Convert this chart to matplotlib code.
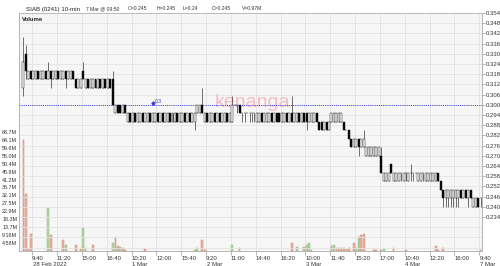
import matplotlib
matplotlib.use("Agg")
import matplotlib.pyplot as plt
import numpy as np

plt.rcParams['font.family'] = ['Liberation Sans', 'DejaVu Sans']

# prices in thousandths of a ringgit, one entry per 10-min bar
opens = [310, 330, 315, 320, 315, 315, 320, 315, 315, 320,
         315, 320, 315, 315, 320, 315, 315, 320, 315, 315,
         320, 315, 310, 310, 320, 310, 315, 310, 310, 315,
         310, 315, 310, 315, 310, 315, 315, 295, 300, 300,
         295, 300, 290, 295, 290, 295, 290, 290, 295, 290,
         290, 295, 290, 290, 295, 290, 295, 290, 290, 295,
         290, 290, 295, 290, 290, 295, 290, 295, 290, 290,
         295, 295, 300, 290, 295, 290, 290, 295, 290, 295,
         290, 290, 295, 290, 290, 300, 300, 300, 295, 295,
         295, 295, 295, 295, 290, 290, 295, 290, 290, 290,
         295, 290, 295, 295, 290, 290, 295, 290, 295, 290,
         290, 295, 290, 295, 295, 290, 290, 290, 295, 290,
         290, 285, 290, 285, 290, 290, 290, 290, 290, 290,
         285, 285, 280, 275, 275, 280, 275, 275, 270, 270,
         270, 270, 270, 270, 270, 255, 255, 255, 265, 255,
         255, 255, 260, 255, 260, 255, 260, 260, 260, 255,
         255, 260, 255, 255, 255, 255, 255, 260, 255, 250,
         245, 245, 245, 245, 245, 245, 250, 245, 250, 245,
         250, 240, 240, 245, 245]
highs = [340, 335, 320, 320, 320, 320, 320, 320, 320, 320,
         325, 320, 320, 320, 320, 320, 320, 320, 320, 320,
         320, 315, 315, 315, 325, 315, 315, 315, 315, 315,
         315, 315, 315, 315, 315, 315, 320, 300, 300, 300,
         300, 300, 295, 295, 295, 295, 295, 295, 295, 295,
         295, 295, 295, 295, 295, 295, 295, 295, 295, 295,
         295, 295, 295, 295, 295, 295, 295, 295, 295, 295,
         300, 300, 310, 295, 295, 295, 295, 295, 295, 295,
         295, 295, 295, 295, 305, 300, 300, 300, 295, 295,
         295, 295, 295, 295, 295, 295, 295, 295, 295, 295,
         295, 295, 295, 295, 295, 295, 295, 295, 305, 295,
         295, 295, 295, 295, 295, 295, 295, 295, 295, 290,
         290, 290, 290, 290, 295, 295, 295, 295, 295, 290,
         285, 285, 280, 280, 280, 280, 280, 285, 275, 275,
         275, 275, 275, 275, 275, 260, 260, 260, 265, 260,
         260, 260, 260, 260, 260, 260, 265, 260, 260, 260,
         260, 260, 260, 260, 260, 260, 260, 260, 255, 250,
         250, 250, 250, 250, 250, 250, 250, 250, 250, 250,
         250, 245, 245, 245, 245]
lows = [305, 315, 315, 315, 315, 315, 315, 315, 315, 315,
        315, 310, 315, 315, 315, 315, 315, 310, 315, 315,
        315, 310, 310, 310, 315, 310, 310, 310, 310, 310,
        310, 310, 310, 310, 310, 310, 300, 295, 295, 295,
        295, 295, 290, 290, 290, 290, 290, 290, 290, 290,
        290, 290, 290, 290, 290, 290, 290, 290, 290, 290,
        290, 290, 290, 290, 290, 290, 290, 290, 290, 285,
        295, 295, 295, 290, 290, 290, 290, 290, 290, 290,
        290, 290, 290, 290, 290, 300, 295, 295, 290, 290,
        295, 290, 290, 290, 290, 290, 290, 290, 290, 290,
        290, 290, 290, 290, 290, 290, 290, 290, 290, 290,
        290, 290, 290, 290, 285, 290, 290, 290, 290, 285,
        285, 285, 285, 285, 290, 290, 290, 290, 290, 285,
        285, 280, 275, 275, 275, 270, 275, 275, 270, 270,
        270, 270, 270, 270, 260, 255, 255, 255, 260, 255,
        255, 255, 255, 255, 255, 255, 255, 255, 260, 255,
        255, 255, 255, 255, 255, 255, 255, 255, 250, 240,
        240, 240, 240, 240, 240, 240, 245, 245, 245, 240,
        245, 240, 240, 240, 240]
closes = [325, 320, 320, 315, 320, 320, 315, 320, 320, 315,
          320, 315, 320, 320, 315, 320, 320, 315, 320, 320,
          315, 310, 315, 315, 315, 315, 310, 315, 315, 310,
          315, 310, 315, 310, 315, 310, 300, 300, 295, 295,
          300, 295, 295, 290, 295, 290, 295, 295, 290, 295,
          295, 290, 295, 295, 290, 295, 290, 295, 295, 290,
          295, 295, 290, 295, 295, 290, 295, 290, 295, 295,
          300, 300, 295, 295, 290, 295, 295, 290, 295, 290,
          295, 295, 290, 295, 300, 300, 300, 295, 295, 295,
          295, 295, 295, 295, 295, 295, 290, 295, 295, 295,
          290, 295, 290, 290, 295, 295, 290, 295, 290, 295,
          295, 290, 295, 290, 290, 295, 295, 295, 290, 285,
          285, 290, 285, 290, 295, 295, 295, 295, 295, 285,
          285, 280, 275, 280, 280, 275, 280, 280, 275, 275,
          275, 275, 275, 275, 260, 260, 260, 260, 260, 260,
          260, 260, 260, 260, 260, 260, 260, 260, 260, 260,
          260, 260, 260, 260, 260, 260, 260, 255, 250, 245,
          250, 250, 250, 250, 250, 250, 245, 250, 245, 250,
          245, 245, 245, 240, 245]

# volume (millions), only bars with visible volume
vol_idx = [0, 1, 2, 3, 10, 11, 16, 17, 21, 23, 24, 25, 28, 36, 37, 38, 39, 40, 41, 49,
           69, 70, 72, 73, 84, 87, 108, 110, 113, 114, 115, 116, 124, 125, 126, 127,
           128, 129, 130, 131, 133, 134, 135, 136, 137, 141, 142, 144, 145, 149, 154,
           166, 167, 169, 184]
vol_m = [64, 33, 1, 10, 25, 9, 6.2, 3.5, 3.5, 1, 13, 1.5, 3.5, 4.9, 8.2, 3, 2.3, 1.5, 0.6, 1,
         0.5, 1.5, 6.4, 0.5, 3.5, 1.5, 4.9, 2.5, 2.3, 3.3, 4.5, 0.5, 3, 3.3, 1.5, 1.5,
         2, 1.5, 1.2, 1.5, 4.5, 2, 7.8, 9.3, 10, 0.5, 0.4, 0.8, 1.2, 2, 0.5,
         3, 0.5, 2, 0.5]
vol_green = [10, 17, 24, 36, 39, 69, 70, 84, 110, 114, 115, 125, 134, 135, 144, 145]

# x axis labels (bar index, time, date below for first bar of a day)
tick_idx = [4, 14, 24, 34, 44, 54, 64, 74, 84, 94, 104, 114, 124, 134, 144, 154, 164, 174, 184]
tick_lbl = ["9:40", "11:20", "15:00", "16:40", "10:20", "12:00", "15:40",
            "9:20", "11:00", "14:40", "16:20", "10:00", "11:40", "15:20",
            "17:00", "10:40", "12:20", "16:00", "9:40"]
date_idx = [4, 44, 74, 114, 154, 184]
date_lbl = ["28 Feb 2022", "1 Mar", "2 Mar", "3 Mar", "4 Mar", "7 Mar"]
price_ticks = [0.354, 0.348, 0.342, 0.336, 0.330, 0.324, 0.318, 0.312, 0.306, 0.300,
               0.294, 0.288, 0.282, 0.276, 0.270, 0.264, 0.258, 0.252, 0.246, 0.240, 0.234]
vol_ticks = [4.58, 9.16, 13.7, 18.3, 22.9, 27.5, 32.1, 36.7, 41.2, 45.8, 50.4, 55.0,
             59.6, 64.1, 68.7]
vol_labels = ["4.58M", "9.16M", "13.7M", "18.3M", "22.9M", "27.5M", "32.1M", "36.7M",
              "41.2M", "45.8M", "50.4M", "55.0M", "59.6M", "64.1M", "68.7M"]
prev_close = 0.300

o = np.array(opens) / 1000
h = np.array(highs) / 1000
l = np.array(lows) / 1000
c = np.array(closes) / 1000
x = np.arange(len(o))

fig = plt.figure(figsize=(5, 2.66), dpi=100)
axv = fig.add_axes([19 / 500, 1 - 251 / 266, 463 / 500, 238 / 266])
axp = axv.twinx()

# volume panel (left axis)
axv.set_facecolor('#f6f6f6')
vcol = ['#b8d8aa' if i in vol_green else '#e9b5a5' for i in vol_idx]
vedge = ['#86b574' if i in vol_green else '#cc8670' for i in vol_idx]
axv.bar(vol_idx, vol_m, width=0.7, color=vcol, edgecolor=vedge, linewidth=0.35, zorder=2)
axv.set_ylim(0, 137.4)
axv.set_yticks(vol_ticks)
axv.set_yticklabels(vol_labels)
axv.tick_params(axis='y', length=0, pad=1.2, labelsize=3.9, labelcolor='#333333')
axv.set_xlim(-1.8, 184.6)
axv.set_xticks([i - 0.5 for i in tick_idx])
axv.set_xticklabels(tick_lbl)
for t in axv.get_xticklabels():
    t.set_ha('left')
axv.tick_params(axis='x', length=3, width=0.5, color='#999999', pad=0.3,
                labelsize=4.3, labelcolor='#333333')
for i, d in zip(date_idx, date_lbl):
    axv.text(i - 0.3, -0.048, d, transform=axv.get_xaxis_transform(), fontsize=4.3,
             color='#333333', ha='left', va='top')
axv.grid(axis='x', color='#e2e2e2', linewidth=0.6, zorder=0)
axv.set_axisbelow(True)

# price panel (right axis)
axp.set_ylim(0.214, 0.354)
axp.set_yticks(price_ticks)
axp.set_yticklabels([f"{p:.3f}" for p in price_ticks])
axp.tick_params(axis='y', length=2, width=0.5, color='#999999', pad=1,
                labelsize=4.3, labelcolor='#333333')
for p in price_ticks + [0.228, 0.222, 0.216]:
    axp.axhline(p, color='#e4e4e4', linewidth=0.6, zorder=0)

axp.text(92, 0.3015, 'kenanga', color='#f3bcc8', fontsize=14, ha='center',
         va='center', zorder=0.5)
axp.axhline(prev_close, color='#3c3ce0', linestyle=(0, (1, 1.2)), linewidth=0.7, zorder=1)
axp.plot([52], [prev_close + 0.0012], marker='D', markersize=1.6, color='#3c3ce0', zorder=1)
axp.text(53, prev_close + 0.0006, '0.3', color='#3c3ce0', fontsize=3.6, va='bottom', zorder=1)

# candles
up = c >= o
axp.vlines(x, l, h, color='#222222', linewidth=0.45, zorder=3)
body_b = np.minimum(o, c)
body_h = np.abs(c - o)
axp.bar(x, body_h, bottom=body_b, width=0.8,
        color=np.where(up, '#ffffff', '#000000'), edgecolor='#222222',
        linewidth=0.35, zorder=4)

for ax in (axv, axp):
    for s in ax.spines.values():
        s.set_color('#b5b5b5')
        s.set_linewidth(0.6)

axv.text(0.006, 0.985, 'Volume', transform=axv.transAxes, fontsize=4.3,
         fontweight='bold', va='top', ha='left', color='#222222', zorder=5)

fig.text(26 / 500, 1 - 10.5 / 266, 'SIAB (0241) 10-min', fontsize=4.4, color='#222222', va='baseline')
info_x = [86, 128, 157, 183, 212, 242]
info_t = ['7 Mar @ 09:50', 'O=0.245', 'H=0.245', 'L=0.24', 'C=0.245', 'V=0.97M']
for xi, t in zip(info_x, info_t):
    fig.text(xi / 500, 1 - 10 / 266, t, fontsize=3.6, color='#333333', va='baseline')

fig.savefig('out.png', dpi=100)
